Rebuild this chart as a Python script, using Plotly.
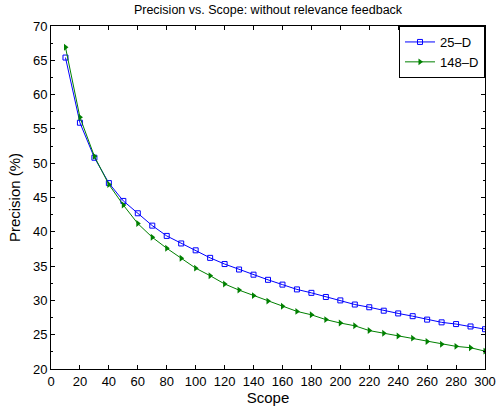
import plotly.graph_objects as go

scope = [10, 20, 30, 40, 50, 60, 70, 80, 90, 100, 110, 120, 130, 140, 150,
         160, 170, 180, 190, 200, 210, 220, 230, 240, 250, 260, 270, 280, 290, 300]
prec_25d = [65.4, 55.9, 50.8, 47.1, 44.5, 42.7, 40.9, 39.4, 38.3, 37.3, 36.2, 35.3, 34.5, 33.75, 33.0,
            32.3, 31.6, 31.1, 30.5, 30.0, 29.4, 29.0, 28.5, 28.1, 27.7, 27.2, 26.8, 26.55, 26.2, 25.8]
prec_148d = [66.9, 56.7, 51.0, 46.9, 43.9, 41.2, 39.2, 37.6, 36.15, 34.7, 33.6, 32.4, 31.5, 30.7, 29.9,
             29.15, 28.4, 27.9, 27.2, 26.7, 26.3, 25.6, 25.2, 24.8, 24.5, 24.0, 23.6, 23.3, 23.1, 22.6]

FONT = "Liberation Sans, Arial, sans-serif"

fig = go.Figure()
fig.add_trace(go.Scatter(x=scope, y=prec_25d, name="25\u2013D", mode="lines+markers",
                         line=dict(color="#0000FF", width=1),
                         marker=dict(symbol="square-open", size=5, color="#0000FF", line=dict(width=1))))
fig.add_trace(go.Scatter(x=scope, y=prec_148d, name="148\u2013D", mode="lines+markers",
                         line=dict(color="#008000", width=1),
                         marker=dict(symbol="triangle-right", size=6, color="#008000")))

axis_common = dict(showline=True, linecolor="black", linewidth=1, mirror="ticks",
                   ticks="inside", ticklen=4, tickcolor="black", showgrid=False, zeroline=False,
                   automargin=False,
                   tickfont=dict(family=FONT, size=13, color="black"),
                   title_font=dict(family=FONT, size=15, color="black"))

fig.update_xaxes(range=[0, 300], dtick=20, tick0=0, title_text="Scope", title_standoff=1, **axis_common)
fig.update_yaxes(range=[20, 70], dtick=5, tick0=20, title_text="Precision (%)", title_standoff=8,
                 minor=dict(dtick=2.5, ticks="inside", ticklen=2, tickcolor="black"), **axis_common)

fig.update_layout(
    width=498, height=408,
    margin=dict(l=51, r=13, t=26, b=39),
    paper_bgcolor="white", plot_bgcolor="white",
    title=dict(text="Precision vs. Scope: without relevance feedback", x=0.5, xref="paper",
               y=1, yref="container", yanchor="top", pad=dict(t=5),
               font=dict(family=FONT, size=12.5, color="black")),
    legend=dict(x=1, y=1, xanchor="right", yanchor="top", bordercolor="black", borderwidth=1,
                bgcolor="white", font=dict(family=FONT, size=13, color="black"),
                tracegroupgap=2),
    showlegend=True,
)

fig.write_html("out.html", post_script="document.body.style.margin='0';",
               config={"displayModeBar": False})
